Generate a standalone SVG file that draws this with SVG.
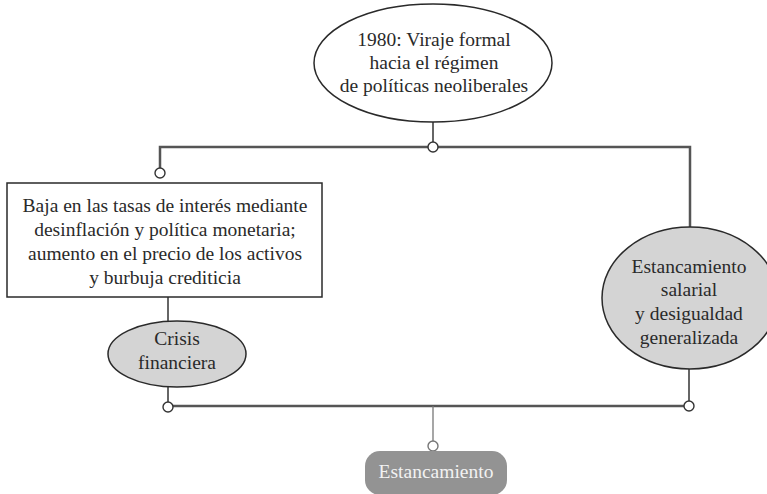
<svg xmlns="http://www.w3.org/2000/svg" width="767" height="494" viewBox="0 0 767 494">
  <style>
    text { font-family: 'Liberation Serif', 'Times New Roman', 'DejaVu Serif', serif; font-size: 19.5px; fill: #2a2a2a; text-anchor: middle; }
    .light { fill: #f2f2f2; }
    .bus { stroke: #555; stroke-width: 2.5; fill: none; }
    .drop { stroke: #333; stroke-width: 1.5; fill: none; }
    .drop-light { stroke: #777; stroke-width: 1.3; fill: none; }
    .joint { fill: #fff; stroke: #333; stroke-width: 1.4; }
    .shape { stroke: #2a2a2a; stroke-width: 1.5; }
  </style>

  <!-- connectors -->
  <g id="connectors">
    <line class="drop" x1="433" y1="122" x2="433" y2="142"/>
    <polyline class="bus" points="160,168 160,147 690,147 690,227"/>
    <line class="drop" x1="168" y1="297" x2="168" y2="321"/>
    <line class="drop" x1="168" y1="387" x2="168" y2="402"/>
    <line class="drop" x1="689" y1="369" x2="689" y2="401"/>
    <line class="bus" x1="173" y1="406" x2="684" y2="406"/>
    <line class="drop-light" x1="433" y1="406" x2="433" y2="441"/>
    <circle class="joint" cx="433" cy="147" r="5"/>
    <circle class="joint" cx="160" cy="173" r="5"/>
    <circle class="joint" cx="168" cy="407" r="5"/>
    <circle class="joint" cx="689" cy="406" r="5"/>
    <circle class="joint" cx="433" cy="446" r="5" style="stroke:#777"/>
  </g>

  <!-- 1980 turning point -->
  <g id="node-viraje">
    <ellipse class="shape" cx="433" cy="63" rx="119" ry="59" fill="#fff"/>
    <text x="434" y="46">1980: Viraje formal</text>
    <text x="434" y="69">hacia el régimen</text>
    <text x="434" y="92">de políticas neoliberales</text>
  </g>

  <!-- interest rates box -->
  <g id="node-tasas">
    <rect class="shape" x="7" y="183" width="315" height="114" fill="#fff"/>
    <text x="165" y="212">Baja en las tasas de interés mediante</text>
    <text x="165" y="236">desinflación y política monetaria;</text>
    <text x="165" y="260">aumento en el precio de los activos</text>
    <text x="165" y="284">y burbuja crediticia</text>
  </g>

  <!-- financial crisis -->
  <g id="node-crisis">
    <ellipse class="shape" cx="177" cy="354" rx="69" ry="33" fill="#d4d4d4"/>
    <text x="177" y="345">Crisis</text>
    <text x="177" y="369">financiera</text>
  </g>

  <!-- wage stagnation -->
  <g id="node-salarial">
    <ellipse class="shape" cx="690" cy="298" rx="88" ry="71" fill="#d4d4d4"/>
    <text x="689" y="273">Estancamiento</text>
    <text x="689" y="296">salarial</text>
    <text x="689" y="320">y desigualdad</text>
    <text x="689" y="344">generalizada</text>
  </g>

  <!-- stagnation outcome -->
  <g id="node-estancamiento">
    <rect x="365" y="451" width="142" height="44" rx="15" fill="#939393"/>
    <text class="light" x="436" y="478">Estancamiento</text>
  </g>
</svg>
